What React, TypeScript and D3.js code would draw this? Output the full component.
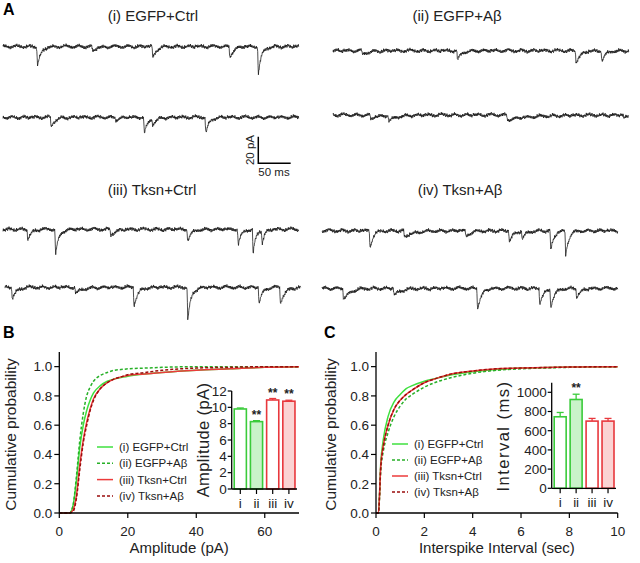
import React from 'react';
import * as d3 from 'd3';

// ---- data ----
const GROUPS = ['i', 'ii', 'iii', 'iv'];
const GROUP_NAMES = ['(i) EGFP+Ctrl', '(ii) EGFP+Aβ', '(iii) Tksn+Ctrl', '(iv) Tksn+Aβ'];

// cumulative amplitude distributions (pA)
const AMP_X = [0, 3, 4, 5, 6, 7, 8, 9, 10, 12, 14, 16, 18, 20, 25, 30, 40, 50, 60, 70];
const AMP_I = [0, 0, 0.05, 0.22, 0.45, 0.6, 0.7, 0.77, 0.82, 0.87, 0.9, 0.915, 0.925, 0.935, 0.95, 0.96, 0.975, 0.985, 0.995, 1.0];
const AMP_II = [0, 0, 0.05, 0.25, 0.5, 0.68, 0.8, 0.86, 0.9, 0.94, 0.96, 0.975, 0.98, 0.985, 0.99, 0.995, 1.0, 1.0, 1.0, 1.0];
const AMP_III = [0, 0, 0.02, 0.12, 0.33, 0.5, 0.62, 0.71, 0.78, 0.85, 0.89, 0.915, 0.93, 0.94, 0.95, 0.96, 0.975, 0.985, 0.995, 1.0];
const AMP_IV = [0, 0, 0.01, 0.1, 0.3, 0.48, 0.6, 0.7, 0.77, 0.85, 0.89, 0.915, 0.93, 0.945, 0.96, 0.975, 0.99, 0.995, 1.0, 1.0];

// cumulative interspike interval distributions (sec)
const ISI_X = [0, 0.1, 0.2, 0.3, 0.5, 0.75, 1, 1.25, 1.5, 2, 2.5, 3, 4, 5, 6, 8, 10];
const ISI_I = [0, 0, 0.35, 0.5, 0.66, 0.76, 0.81, 0.85, 0.87, 0.9, 0.92, 0.94, 0.965, 0.98, 0.99, 0.997, 1.0];
const ISI_II = [0, 0, 0.3, 0.42, 0.55, 0.66, 0.73, 0.78, 0.81, 0.86, 0.895, 0.92, 0.955, 0.975, 0.985, 0.995, 1.0];
const ISI_III = [0, 0, 0.33, 0.46, 0.6, 0.71, 0.77, 0.81, 0.84, 0.89, 0.92, 0.945, 0.97, 0.985, 0.99, 0.997, 1.0];
const ISI_IV = [0, 0, 0.32, 0.45, 0.6, 0.71, 0.77, 0.81, 0.84, 0.89, 0.92, 0.945, 0.97, 0.985, 0.99, 0.997, 1.0];

// inset bar values
const AMP_MEAN = [9.8, 8.25, 10.9, 10.75];
const AMP_SEM = [0.12, 0.12, 0.18, 0.12];
const AMP_SIG = ['', '**', '**', '**'];
const ISI_MEAN = [745, 925, 700, 700];
const ISI_SEM = [45, 55, 28, 28];
const ISI_SIG = ['', '**', '', ''];

// example traces: events as [time ms, amplitude pA, decay ms]
const TRACE_MS = 457;
const TRACE_I_1 = [[52, 14, 6], [137, 3.5, 8], [230, 8.5, 6], [349, 8.5, 6], [393, 21, 5]];
const TRACE_I_2 = [[73, 7.5, 6], [173, 2, 6], [217, 12.5, 6], [230, 4.5, 6], [312, 12.5, 5]];
const TRACE_II_1 = [[44, 3, 10], [191, 7.5, 6], [374, 8.5, 8], [414, 8, 6]];
const TRACE_II_2 = [[57, 3, 12], [85, 4.5, 12], [268, 3.5, 40], [448, 2.5, 8]];
const TRACE_III_1 = [[37, 9, 5], [80, 19, 5], [165, 4.5, 8], [284, 9, 6], [362, 12, 5], [385, 19, 4], [399, 10.5, 4]];
const TRACE_III_2 = [[10, 9.5, 6], [108, 5, 10], [198, 14, 6], [281, 25, 5], [391, 13, 5], [424, 12, 7]];
const TRACE_IV_1 = [[73, 13, 5], [126, 5, 15], [221, 4.5, 8], [288, 9, 6], [308, 6.5, 6], [352, 15.5, 5], [375, 18, 5]];
const TRACE_IV_2 = [[32, 9, 10], [110, 5, 12], [239, 15.5, 6], [335, 12.5, 6], [352, 13.5, 6], [392, 6.5, 7]];

// recording noise (pA), two tables of coprime length
const NOISE_A = [0.3, -0.5, 0.8, -0.2, -0.9, 0.4, 0.1, -0.6, 0.9, -0.3, 0.2, -0.8, 0.6, 0.0, -0.4, 0.7, -0.7, 0.3, -0.1, 0.5, -0.9, 0.2, 0.8, -0.5, -0.2, 0.6, -0.3, 0.1, -0.7, 0.9, -0.4, 0.3, -0.6, 0.5, 0.0, -0.8, 0.4];
const NOISE_B = [0.5, 0.2, -0.3, -0.6, -0.2, 0.4, 0.7, 0.3, -0.1, -0.5, -0.4, 0.1, 0.6, 0.2, -0.3, -0.7, -0.2, 0.3, 0.5, 0.0, -0.4, 0.2, 0.1];

// ---- layout / style ----
const FONT = '"Liberation Sans", Arial, Helvetica, sans-serif';
const COLORS = ['#3fe03f', '#27b027', '#ec3b3b', '#9a0d0d'];
const DASHES = [null, '3,2', null, '3,2'];
const BAR_STROKE = ['#3acb3a', '#3acb3a', '#e8383d', '#e8383d'];
const BAR_FILL = ['#ffffff', '#c9f3c9', '#ffffff', '#fbd3d3'];

const TRACES = [
  { events: TRACE_I_1, x0: 3, base: 46.5 },
  { events: TRACE_I_2, x0: 3, base: 117.3 },
  { events: TRACE_II_1, x0: 333, base: 50.7 },
  { events: TRACE_II_2, x0: 333, base: 115 },
  { events: TRACE_III_1, x0: 3, base: 229.3 },
  { events: TRACE_III_2, x0: 5, base: 287.3 },
  { events: TRACE_IV_1, x0: 322, base: 230.7 },
  { events: TRACE_IV_2, x0: 322, base: 288.3 },
];
const TRACE_W = 296;
const PA20 = 26.7; // px per 20 pA

function traceSamples(events: number[][], phase: number): [number, number][] {
  const dt = 0.55;
  const out: [number, number][] = [];
  for (let k = 0; k * dt <= TRACE_MS; k++) {
    const t = k * dt;
    const j = Math.floor((k + phase) / 6);
    let v = NOISE_A[(k + phase) % NOISE_A.length] * 1.3 + NOISE_B[(j + phase) % NOISE_B.length] * 1.4;
    for (const [t0, amp, tau] of events) {
      const s = t - t0;
      if (s < 0) continue;
      v -= s < 1.2 ? (amp * s) / 1.2 : amp * Math.exp(-(s - 1.2) / tau);
    }
    out.push([t, v]);
  }
  return out;
}

function Trace({ events, x0, base, phase }: any) {
  const x = d3.scaleLinear().domain([0, TRACE_MS]).range([x0, x0 + TRACE_W]);
  const y = d3.scaleLinear().domain([-20, 0]).range([base + PA20, base]);
  const line = d3.line<[number, number]>().x(d => x(d[0])).y(d => y(d[1]));
  return <path d={line(traceSamples(events, phase)) || ''} fill="none" stroke="#111" strokeWidth={0.75} />;
}

function Inset({ axisX, xEnd, yScale, yTicks, means, sems, sigs, label, labelX, labelY, letterSpacing }: any) {
  const band = d3.scaleBand().domain(GROUPS).range([axisX + 0.5, xEnd]).paddingInner(0.25).paddingOuter(0.125);
  const y0 = yScale(0);
  const yTop = yScale.range()[1];
  return (
    <g>
      {GROUPS.map((g, i) => {
        const bx = band(g)!;
        const bw = band.bandwidth();
        const cx = bx + bw / 2;
        const yt = yScale(means[i] + sems[i]);
        return (
          <g key={g}>
            <line x1={cx} x2={cx} y1={yScale(means[i])} y2={yt} stroke={BAR_STROKE[i]} strokeWidth={1.3} />
            <line x1={cx - 3.5} x2={cx + 3.5} y1={yt} y2={yt} stroke={BAR_STROKE[i]} strokeWidth={1.3} />
            <rect x={bx} y={yScale(means[i])} width={bw} height={y0 - yScale(means[i])} fill={BAR_FILL[i]} stroke={BAR_STROKE[i]} strokeWidth={1.6} />
            {sigs[i] && (
              <text x={cx} y={yt - 2} textAnchor="middle" fontSize={12} fontWeight="bold" fill="#222">{sigs[i]}</text>
            )}
            <line x1={cx} x2={cx} y1={y0} y2={y0 + 5} stroke="#000" strokeWidth={1.2} />
            <text x={cx} y={y0 + 19} textAnchor="middle" fontSize={13.5} fill="#222">{g}</text>
          </g>
        );
      })}
      <line x1={axisX} x2={axisX} y1={y0} y2={yTop} stroke="#000" strokeWidth={1.3} />
      <line x1={axisX} x2={xEnd} y1={y0} y2={y0} stroke="#000" strokeWidth={1.3} />
      {yTicks.map((t: number) => (
        <g key={t}>
          <line x1={axisX - 4} x2={axisX} y1={yScale(t)} y2={yScale(t)} stroke="#000" strokeWidth={1.2} />
          <text x={axisX - 5} y={yScale(t) + 4.8} textAnchor="end" fontSize={13.5} fill="#222">{t}</text>
        </g>
      ))}
      <text transform={`translate(${labelX},${labelY}) rotate(-90)`} textAnchor="middle" fontSize={16.5} letterSpacing={letterSpacing} fill="#222">{label}</text>
    </g>
  );
}

function CdfPanel({ xScale, yScale, xTicks, xs, series, xLabel, yLabelX, legendX, legendY, legendStep }: any) {
  const y0 = yScale(0);
  const [ax] = xScale.range();
  const line = d3.line<number>().x((_, i) => xScale(xs[i])).y(d => yScale(d)).curve(d3.curveMonotoneX);
  const yTicks = [0, 0.2, 0.4, 0.6, 0.8, 1.0];
  return (
    <g>
      {series.map((s: number[], i: number) => (
        <path key={i} d={line(s) || ''} fill="none" stroke={COLORS[i]} strokeWidth={1.5} strokeDasharray={DASHES[i] || undefined} />
      ))}
      <line x1={ax} x2={ax} y1={y0} y2={yScale.range()[1]} stroke="#000" strokeWidth={1.3} />
      <line x1={ax} x2={xScale.range()[1]} y1={y0} y2={y0} stroke="#000" strokeWidth={1.3} />
      {yTicks.map(t => (
        <g key={t}>
          <line x1={ax - 5} x2={ax} y1={yScale(t)} y2={yScale(t)} stroke="#000" strokeWidth={1.2} />
          <text x={ax - 7} y={yScale(t) + 4.8} textAnchor="end" fontSize={13.5} fill="#222">{d3.format('.1f')(t)}</text>
        </g>
      ))}
      {xTicks.map((t: number) => (
        <g key={t}>
          <line x1={xScale(t)} x2={xScale(t)} y1={y0} y2={y0 + 5} stroke="#000" strokeWidth={1.2} />
          <text x={xScale(t)} y={y0 + 23} textAnchor="middle" fontSize={13.5} fill="#222">{t}</text>
        </g>
      ))}
      <text x={(xScale.range()[0] + xScale.range()[1]) / 2} y={553} textAnchor="middle" fontSize={15} fill="#222">{xLabel}</text>
      <text transform={`translate(${yLabelX},${(y0 + yScale.range()[1]) / 2 + 2}) rotate(-90)`} textAnchor="middle" fontSize={15.5} fill="#222">Cumulative probability</text>
      {GROUP_NAMES.map((n, i) => {
        const ly = legendY + i * legendStep;
        return (
          <g key={n}>
            <line x1={legendX} x2={legendX + 16} y1={ly} y2={ly} stroke={COLORS[i]} strokeWidth={1.5} strokeDasharray={DASHES[i] || undefined} />
            <text x={legendX + 22} y={ly + 4} fontSize={11.5} fill="#222">{n}</text>
          </g>
        );
      })}
    </g>
  );
}

export default function App() {
  const yCdf = d3.scaleLinear().domain([0, 1.1]).range([513, 352]);
  const xAmp = d3.scaleLinear().domain([0, 70]).range([59.3, 299]);
  const xIsi = d3.scaleLinear().domain([0, 10]).range([376, 617.7]);
  const yAmpBar = d3.scaleLinear().domain([0, 12]).range([489, 391]);
  const yIsiBar = d3.scaleLinear().domain([0, 1100]).range([488.3, 382.7]);
  const titlePos = [[153, 21], [457, 21], [152, 195], [460, 195]];

  return (
    <>
      <style>{'body{margin:0}'}</style>
      <svg width={640} height={563} fontFamily={FONT} style={{ display: 'block', background: '#fff' }}>
        {/* panel letters */}
        <text x={3} y={15} fontSize={16} fontWeight="bold">A</text>
        <text x={3} y={338} fontSize={16} fontWeight="bold">B</text>
        <text x={324} y={338} fontSize={16} fontWeight="bold">C</text>

        {/* traces */}
        {GROUP_NAMES.map((n, i) => (
          <text key={n} x={titlePos[i][0]} y={titlePos[i][1]} textAnchor="middle" fontSize={15} fill="#222">{n}</text>
        ))}
        {TRACES.map((t, i) => (
          <Trace key={i} events={t.events} x0={t.x0} base={t.base} phase={i * 7} />
        ))}

        {/* scale bar */}
        <path d={`M258.3,136.7 V163.3 H${258.3 + (50 / TRACE_MS) * TRACE_W}`} fill="none" stroke="#000" strokeWidth={1.5} />
        <text transform="translate(254,150) rotate(-90)" textAnchor="middle" fontSize={11.5} fill="#222">20 pA</text>
        <text x={274} y={176} textAnchor="middle" fontSize={11.5} fill="#222">50 ms</text>

        {/* B */}
        <CdfPanel xScale={xAmp} yScale={yCdf} xTicks={[0, 20, 40, 60]} xs={AMP_X}
          series={[AMP_I, AMP_II, AMP_III, AMP_IV]} xLabel="Amplitude (pA)" yLabelX={16}
          legendX={97} legendY={447} legendStep={16.3} />
        <Inset axisX={231.7} xEnd={297} yScale={yAmpBar} yTicks={[0, 2, 4, 6, 8, 10, 12]}
          means={AMP_MEAN} sems={AMP_SEM} sigs={AMP_SIG} label="Amplitude (pA)" labelX={209} labelY={440} letterSpacing={0.4} />

        {/* C */}
        <CdfPanel xScale={xIsi} yScale={yCdf} xTicks={[0, 2, 4, 6, 8, 10]} xs={ISI_X}
          series={[ISI_I, ISI_II, ISI_III, ISI_IV]} xLabel="Interspike Interval (sec)" yLabelX={336}
          legendX={392} legendY={444} legendStep={16} />
        <Inset axisX={551.7} xEnd={616} yScale={yIsiBar} yTicks={[0, 200, 400, 600, 800, 1000]}
          means={ISI_MEAN} sems={ISI_SEM} sigs={ISI_SIG} label="Interval (ms)" labelX={509} labelY={436} letterSpacing={1.5} />
      </svg>
    </>
  );
}
